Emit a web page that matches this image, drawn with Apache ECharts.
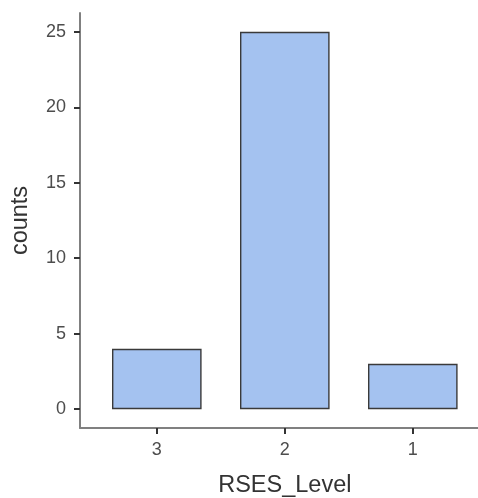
<!DOCTYPE html>
<html><head><meta charset="utf-8">
<script src="https://cdn.jsdelivr.net/npm/echarts@6/dist/echarts.min.js"></script>
<style>html,body{margin:0;padding:0;background:#fff}#c{width:478px;height:498px}</style>
</head><body><div id="c"></div>
<script>
const categories = ["3", "2", "1"];
const counts = [4, 25, 3];
const yTicks = [0, 5, 10, 15, 20, 25];
const xTitle = "RSES_Level";
const yTitle = "counts";

const positions = categories.map((_, i) => i + 1);
const chart = echarts.init(document.getElementById('c'), null, {renderer: 'canvas'});
const font = 'Liberation Sans, Arial, sans-serif';
chart.setOption({
  animation: false,
  backgroundColor: '#ffffff',
  grid: {left: 80, top: 13, width: 409.6, height: 415, containLabel: false, outerBoundsMode: 'none'},
  xAxis: {
    type: 'value', min: 0.4, max: 3.6,
    name: xTitle, nameLocation: 'middle', nameGap: 46,
    nameTextStyle: {fontSize: 23.5, color: '#333333', fontFamily: font},
    splitLine: {show: false},
    axisLine: {show: true, onZero: false, lineStyle: {color: '#808080', width: 2}},
    axisTick: {show: true, length: 6, customValues: positions, lineStyle: {color: '#333333', width: 2}},
    axisLabel: {show: true, customValues: positions, margin: 13, fontSize: 18, color: '#4d4d4d', fontFamily: font,
      formatter: v => categories[Math.round(v) - 1]}
  },
  yAxis: {
    type: 'value', min: -1.25, max: 26.25,
    name: yTitle, nameLocation: 'middle', nameGap: 47,
    nameTextStyle: {fontSize: 23.5, color: '#333333', fontFamily: font},
    splitLine: {show: false},
    axisLine: {show: true, onZero: false, lineStyle: {color: '#808080', width: 2}},
    axisTick: {show: true, length: 6, customValues: yTicks, lineStyle: {color: '#333333', width: 2}},
    axisLabel: {show: true, customValues: yTicks, margin: 14, fontSize: 18, color: '#4d4d4d', fontFamily: font}
  },
  series: [{
    type: 'bar',
    data: positions.map((p, i) => [p, counts[i]]),
    barWidth: 89.6,
    itemStyle: {color: '#A4C2F0', borderColor: '#3a3a3a', borderWidth: 1.4}
  }]
});
</script></body></html>
